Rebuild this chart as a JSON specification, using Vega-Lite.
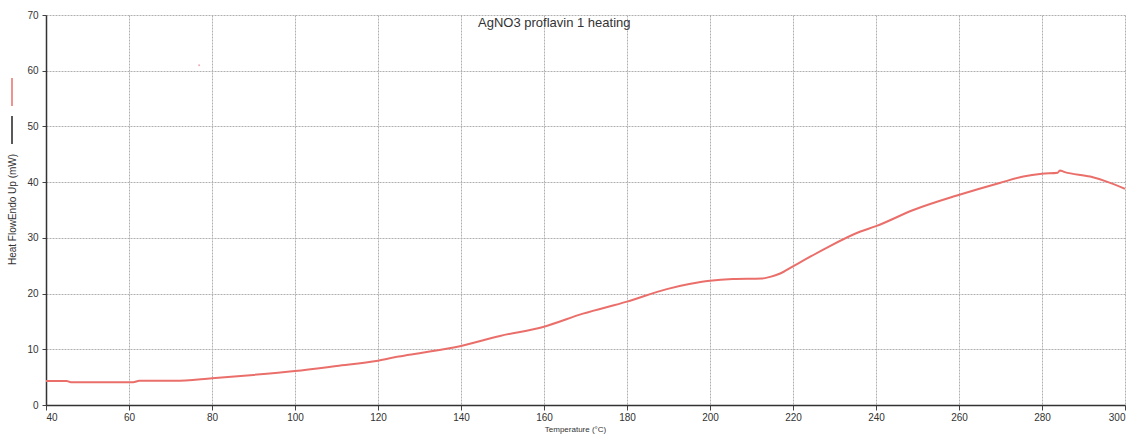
{
  "$schema": "https://vega.github.io/schema/vega-lite/v6.json",
  "width": 1079,
  "height": 390,
  "autosize": {"type": "none"},
  "padding": {"left": 46, "top": 15, "right": 11, "bottom": 35},
  "background": "white",
  "config": {
    "font": "Liberation Sans",
    "view": {"stroke": null},
    "axis": {
      "domainColor": "#333333",
      "domainWidth": 1.5,
      "tickColor": "#444444",
      "gridColor": "#b0b0b0",
      "gridDash": [2, 1],
      "gridWidth": 1,
      "labelColor": "#333333",
      "labelFontSize": 10,
      "titleColor": "#333333",
      "titleFontWeight": "normal",
      "titleFontSize": 9
    }
  },
  "title": {
    "text": "AgNO3 proflavin 1 heating",
    "anchor": "start",
    "frame": "group",
    "dx": 432,
    "dy": 20,
    "offset": 0,
    "fontSize": 13,
    "fontWeight": "normal",
    "color": "#333333"
  },
  "datasets": {
    "curve": [
      {"t": 40, "hf": 4.3, "series": "Heat Flow"},
      {"t": 45, "hf": 4.3, "series": "Heat Flow"},
      {"t": 46, "hf": 4.1, "series": "Heat Flow"},
      {"t": 55, "hf": 4.1, "series": "Heat Flow"},
      {"t": 61, "hf": 4.1, "series": "Heat Flow"},
      {"t": 62.5, "hf": 4.35, "series": "Heat Flow"},
      {"t": 71, "hf": 4.35, "series": "Heat Flow"},
      {"t": 80, "hf": 4.8, "series": "Heat Flow"},
      {"t": 90, "hf": 5.4, "series": "Heat Flow"},
      {"t": 100, "hf": 6.1, "series": "Heat Flow"},
      {"t": 110, "hf": 7.0, "series": "Heat Flow"},
      {"t": 120, "hf": 7.95, "series": "Heat Flow"},
      {"t": 125, "hf": 8.7, "series": "Heat Flow"},
      {"t": 130, "hf": 9.3, "series": "Heat Flow"},
      {"t": 140, "hf": 10.6, "series": "Heat Flow"},
      {"t": 149.4, "hf": 12.4, "series": "Heat Flow"},
      {"t": 160, "hf": 14.05, "series": "Heat Flow"},
      {"t": 169.4, "hf": 16.4, "series": "Heat Flow"},
      {"t": 180, "hf": 18.55, "series": "Heat Flow"},
      {"t": 189.6, "hf": 20.8, "series": "Heat Flow"},
      {"t": 195, "hf": 21.7, "series": "Heat Flow"},
      {"t": 200, "hf": 22.3, "series": "Heat Flow"},
      {"t": 205.5, "hf": 22.6, "series": "Heat Flow"},
      {"t": 212.5, "hf": 22.7, "series": "Heat Flow"},
      {"t": 214.5, "hf": 23.0, "series": "Heat Flow"},
      {"t": 216.9, "hf": 23.6, "series": "Heat Flow"},
      {"t": 220, "hf": 24.9, "series": "Heat Flow"},
      {"t": 227.3, "hf": 27.9, "series": "Heat Flow"},
      {"t": 236.1, "hf": 31.1, "series": "Heat Flow"},
      {"t": 240, "hf": 32.1, "series": "Heat Flow"},
      {"t": 249, "hf": 35.0, "series": "Heat Flow"},
      {"t": 259.5, "hf": 37.6, "series": "Heat Flow"},
      {"t": 270, "hf": 39.9, "series": "Heat Flow"},
      {"t": 275.5, "hf": 41.0, "series": "Heat Flow"},
      {"t": 280, "hf": 41.5, "series": "Heat Flow"},
      {"t": 283.8, "hf": 41.7, "series": "Heat Flow"},
      {"t": 284.3, "hf": 42.1, "series": "Heat Flow"},
      {"t": 285.5, "hf": 41.8, "series": "Heat Flow"},
      {"t": 291.6, "hf": 41.0, "series": "Heat Flow"},
      {"t": 295.6, "hf": 40.1, "series": "Heat Flow"},
      {"t": 300, "hf": 38.8, "series": "Heat Flow"}
    ],
    "speck": [
      {"t": 76.9, "hf": 61.0}
    ]
  },
  "layer": [
    {
      "data": {"name": "curve"},
      "mark": {"type": "line", "strokeWidth": 2, "interpolate": "monotone", "clip": true},
      "encoding": {
        "x": {
          "field": "t",
          "type": "quantitative",
          "scale": {"domain": [40, 300], "nice": false},
          "axis": {
            "values": [40, 60, 80, 100, 120, 140, 160, 180, 200, 220, 240, 260, 280, 300],
            "title": "Temperature (°C)",
            "titleX": 529,
            "titleY": 24,
            "titleFontSize": 8,
            "titleBaseline": "middle",
            "titleAlign": "center",
            "tickSize": 5,
            "labelPadding": 2,
            "grid": true
          }
        },
        "y": {
          "field": "hf",
          "type": "quantitative",
          "scale": {"domain": [0, 70], "nice": false},
          "axis": {
            "values": [0, 10, 20, 30, 40, 50, 60, 70],
            "title": "Heat FlowEndo Up (mW)",
            "titleX": -34,
            "titleY": 194,
            "titleFontSize": 10,
            "titleAngle": 270,
            "titleAlign": "center",
            "titleBaseline": "middle",
            "tickSize": 4,
            "labelPadding": 4,
            "grid": true
          }
        },
        "color": {
          "field": "series",
          "type": "nominal",
          "scale": {"domain": ["Heat Flow", "Baseline"], "range": ["#ea6f6b", "#222222"]},
          "legend": {
            "orient": "none",
            "legendX": -49,
            "legendY": 62,
            "title": null,
            "labelExpr": "''",
            "symbolType": "M0,-1L0,1",
            "symbolSize": 784,
            "symbolStrokeWidth": 1.5,
            "rowPadding": 4,
            "padding": 0,
            "labelFontSize": 1
          }
        }
      }
    },
    {
      "data": {"name": "speck"},
      "mark": {"type": "point", "filled": true, "size": 4, "color": "#e88a9a"},
      "encoding": {
        "x": {"field": "t", "type": "quantitative"},
        "y": {"field": "hf", "type": "quantitative"}
      }
    }
  ]
}
